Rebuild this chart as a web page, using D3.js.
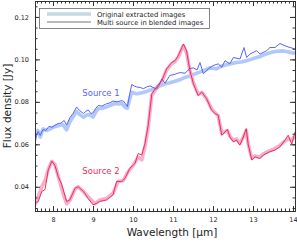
<!DOCTYPE html>
<html><head><meta charset="utf-8">
<script src="https://cdn.jsdelivr.net/npm/d3@7"></script>
<style>body{margin:0;background:#fff}svg{display:block}</style>
</head><body>
<svg id="c" width="297" height="243"></svg>
<script>
// ---- data ----
const s1MultiX = [7.55,7.60,7.63,7.68,7.75,7.82,7.90,7.97,8.05,8.13,8.20,8.28,8.34,8.42,8.50,8.59,8.66,8.76,8.82,8.88,8.95,9.00,9.07,9.13,9.22,9.34,9.42,9.50,9.60,9.70,9.76,9.86,9.92,9.97,10.03,10.09,10.18,10.26,10.34,10.42,10.50,10.59,10.66,10.72,10.80,10.92,11.05,11.17,11.30,11.42,11.51,11.60,11.675,11.76,11.88,12.00,12.13,12.22,12.30,12.42,12.51,12.675,12.775,12.84,12.925,13.09,13.175,13.34,13.425,13.55,13.675,13.80,13.925,14.05];
const s1MultiY = [0.0605,0.0650,0.0660,0.0642,0.0670,0.0665,0.0685,0.0680,0.0690,0.0698,0.0700,0.0712,0.0690,0.0725,0.0745,0.0776,0.0760,0.0745,0.0755,0.0762,0.0745,0.0748,0.0770,0.0783,0.0780,0.0791,0.0795,0.0804,0.0800,0.0805,0.0804,0.0778,0.0840,0.0882,0.0875,0.0870,0.0868,0.0862,0.0870,0.0875,0.0868,0.0860,0.0880,0.0908,0.0888,0.0924,0.0930,0.0938,0.0935,0.0957,0.0960,0.0950,0.0985,0.0932,0.0955,0.0971,0.0979,0.0963,0.0994,0.0979,0.1009,0.1002,0.1056,0.1009,0.1025,0.1041,0.1025,0.1041,0.1056,0.1056,0.1075,0.1064,0.1056,0.1049];
const s1OrigX = [7.55,7.62,7.68,7.75,7.85,7.92,8.00,8.08,8.17,8.25,8.34,8.42,8.50,8.59,8.67,8.76,8.84,8.92,9.00,9.07,9.13,9.22,9.34,9.45,9.55,9.65,9.72,9.80,9.86,9.92,9.97,10.05,10.10,10.20,10.30,10.42,10.55,10.67,10.80,10.92,11.05,11.17,11.30,11.42,11.55,11.67,11.80,11.92,12.00,12.09,12.20,12.34,12.45,12.59,12.70,12.84,12.95,13.09,13.20,13.34,13.45,13.59,13.76,13.90,14.05];
const s1OrigY = [0.0650,0.0665,0.0634,0.0672,0.0665,0.0672,0.0680,0.0685,0.0690,0.0692,0.0668,0.0705,0.0730,0.0755,0.0740,0.0728,0.0738,0.0740,0.0728,0.0752,0.0768,0.0770,0.0776,0.0785,0.0792,0.0790,0.0792,0.0775,0.0770,0.0815,0.0845,0.0840,0.0838,0.0842,0.0846,0.0855,0.0862,0.0875,0.0885,0.0890,0.0897,0.0904,0.0915,0.0922,0.0932,0.0940,0.0950,0.0960,0.0958,0.0955,0.0968,0.0975,0.0980,0.0985,0.0988,0.0994,0.1000,0.1009,0.1015,0.1026,0.1032,0.1038,0.1040,0.1035,0.1028];
const s2MultiX = [7.55,7.63,7.72,7.80,7.88,7.97,8.05,8.13,8.22,8.34,8.42,8.55,8.63,8.76,8.88,9.00,9.09,9.17,9.34,9.50,9.59,9.72,9.80,9.92,10.05,10.13,10.22,10.30,10.38,10.47,10.59,10.72,10.84,10.97,11.05,11.13,11.22,11.26,11.34,11.42,11.51,11.63,11.72,11.84,11.97,12.05,12.13,12.22,12.30,12.36,12.42,12.51,12.59,12.67,12.76,12.83,12.88,12.97,13.05,13.17,13.26,13.42,13.55,13.67,13.80,13.88,13.97,14.05];
const s2MultiY = [0.0324,0.0330,0.0378,0.0387,0.0479,0.0521,0.0500,0.0448,0.0410,0.0331,0.0338,0.0393,0.0400,0.0378,0.0345,0.0315,0.0322,0.0331,0.0338,0.0362,0.0425,0.0425,0.0440,0.0487,0.0510,0.0557,0.0550,0.0604,0.0690,0.0838,0.0870,0.0900,0.0955,0.0986,0.0994,0.1017,0.1056,0.1072,0.1040,0.0950,0.0885,0.0830,0.0846,0.0815,0.0760,0.0745,0.0737,0.0643,0.0658,0.0670,0.0635,0.0612,0.0620,0.0596,0.0635,0.0674,0.0600,0.0526,0.0541,0.0533,0.0550,0.0565,0.0573,0.0588,0.0620,0.0643,0.0600,0.0658];
const s2OrigX = [7.55,7.63,7.72,7.80,7.88,7.97,8.05,8.13,8.25,8.34,8.42,8.55,8.63,8.76,8.92,9.05,9.17,9.34,9.50,9.63,9.76,9.88,10.00,10.13,10.22,10.30,10.38,10.47,10.59,10.72,10.84,10.97,11.05,11.13,11.22,11.26,11.34,11.42,11.51,11.63,11.72,11.84,11.97,12.05,12.13,12.22,12.30,12.36,12.42,12.51,12.59,12.67,12.76,12.83,12.88,12.97,13.05,13.17,13.26,13.42,13.55,13.67,13.80,13.88,13.97,14.05];
const s2OrigY = [0.0315,0.0355,0.0400,0.0430,0.0480,0.0520,0.0505,0.0450,0.0370,0.0320,0.0335,0.0390,0.0400,0.0378,0.0345,0.0320,0.0338,0.0345,0.0370,0.0425,0.0430,0.0472,0.0500,0.0540,0.0527,0.0590,0.0680,0.0830,0.0865,0.0895,0.0950,0.0980,0.0990,0.1010,0.1050,0.1065,0.1030,0.0950,0.0890,0.0835,0.0845,0.0815,0.0765,0.0750,0.0735,0.0650,0.0660,0.0665,0.0640,0.0618,0.0625,0.0605,0.0635,0.0665,0.0600,0.0535,0.0545,0.0540,0.0555,0.0570,0.0580,0.0595,0.0615,0.0625,0.0620,0.0640];
const xTicks = [8,9,10,11,12,13,14];
const yTicks = [0.04,0.06,0.08,0.10,0.12];
const legendLabels = ["Original extracted images","Multi source in blended images"];
const sourceLabels = ["Source 1","Source 2"];

// ---- layout ----
const L=35, R=295, T=1, B=211;
const x = d3.scaleLinear().domain([7.55,14.05]).range([L,R]);
const y = d3.scaleLinear().domain([0.0286,0.1275]).range([B,T]);
const svg = d3.select("#c");
const font = "DejaVu Sans, sans-serif";

svg.append("clipPath").attr("id","clip").append("rect").attr("x",L).attr("y",T).attr("width",R-L).attr("height",B-T);
const g = svg.append("g").attr("clip-path","url(#clip)");
const line = d3.line().x(d=>x(d[0])).y(d=>y(d[1]));
const zip=(a,b)=>a.map((v,i)=>[v,b[i]]);
const series = [
  {d:zip(s1OrigX,s1OrigY), c:"#b0c8fa", w:3.6},
  {d:zip(s2OrigX,s2OrigY), c:"#f5aecb", w:3.6},
  {d:zip(s1MultiX,s1MultiY), c:"#5566f2", w:1},
  {d:zip(s2MultiX,s2MultiY), c:"#f02c58", w:1}
];
series.forEach(s=>g.append("path").attr("d",line(s.d)).attr("fill","none")
  .attr("stroke",s.c).attr("stroke-width",s.w).attr("stroke-linejoin","round"));

// ---- axes ----
const ax = "#333";
const minorX = d3.range(7.6,14.06,0.1).map(v=>+v.toFixed(2));
const minorY = d3.range(0.03,0.1276,0.005).map(v=>+v.toFixed(3));
function mk(axisFn, scale, ticks, len, fmt){
  return axisFn(scale).tickValues(ticks).tickSize(len).tickFormat(fmt||"");
}
// minor
svg.append("g").attr("transform",`translate(0,${B})`).call(mk(d3.axisTop,x,minorX,2.5));
svg.append("g").attr("transform",`translate(0,${T})`).call(mk(d3.axisBottom,x,minorX,2.5));
svg.append("g").attr("transform",`translate(${L},0)`).call(mk(d3.axisRight,y,minorY,2.5));
svg.append("g").attr("transform",`translate(${R},0)`).call(mk(d3.axisLeft,y,minorY,2.5));
// major
const xb = svg.append("g").attr("transform",`translate(0,${B})`).call(mk(d3.axisTop,x,xTicks,5,d3.format("d")));
xb.selectAll("text").attr("y",6).attr("dy","0.71em");
svg.append("g").attr("transform",`translate(0,${T})`).call(mk(d3.axisBottom,x,xTicks,5));
const yl = svg.append("g").attr("transform",`translate(${L},0)`).call(mk(d3.axisRight,y,yTicks,5,d3.format(".2f")));
yl.selectAll("text").attr("x",-6).attr("text-anchor","end");
svg.append("g").attr("transform",`translate(${R},0)`).call(mk(d3.axisLeft,y,yTicks,5));
svg.selectAll(".domain").attr("stroke",ax);
svg.selectAll(".tick line").attr("stroke",ax);
svg.selectAll(".tick text").attr("fill","#222").style("font-family",font).style("font-size","6.5px");

// axis titles
svg.append("text").attr("x",172).attr("y",236).attr("text-anchor","middle")
  .style("font-family",font).style("font-size","10.5px").attr("fill","#222").text("Wavelength [µm]");
svg.append("text").attr("transform","translate(11,106) rotate(-90)").attr("text-anchor","middle")
  .style("font-family",font).style("font-size","10.5px").attr("fill","#222").text("Flux density [Jy]");

// legend
const lg = svg.append("g");
lg.append("rect").attr("x",39.5).attr("y",8.5).attr("width",170).attr("height",20).attr("fill","#fff").attr("stroke","#666").attr("stroke-width",0.8);
lg.append("line").attr("x1",47).attr("x2",91).attr("y1",14).attr("y2",14).attr("stroke","#c6d9e3").attr("stroke-width",3.5);
lg.append("line").attr("x1",47).attr("x2",91).attr("y1",22).attr("y2",22).attr("stroke","#666").attr("stroke-width",0.9);
legendLabels.forEach((t,i)=>lg.append("text").attr("x",97).attr("y",16.5+i*8)
  .style("font-family",font).style("font-size","6.8px").attr("fill","#222").text(t));

// source labels
svg.append("text").attr("x",101).attr("y",96).attr("text-anchor","middle").style("font-family",font)
  .style("font-size","8.5px").attr("fill","#5566f2").text(sourceLabels[0]);
svg.append("text").attr("x",101).attr("y",174).attr("text-anchor","middle").style("font-family",font)
  .style("font-size","8.5px").attr("fill","#f02c58").text(sourceLabels[1]);
</script>
</body></html>
